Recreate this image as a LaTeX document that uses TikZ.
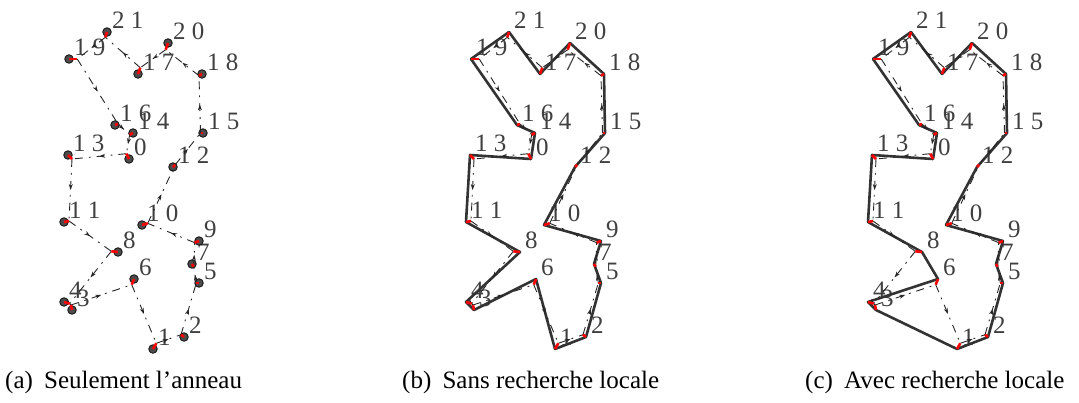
\documentclass[tikz,border=0pt]{standalone}
\usepackage{fontspec}
\setmainfont{LiberationSerif}[Extension=.ttf, UprightFont=*-Regular, BoldFont=*-Bold]
\usetikzlibrary{arrows.meta,decorations.markings}

% city: name/x/y/red dx/red dy/label (pixels, y down)
\def\cities{0/129/159/-2.7/-5.3/0, 1/153/349/3.3/-5.7/1, 2/184/337/-3/-2.3/2,
  3/72/310/-1/-5/3, 4/64/302/5.7/1.7/4, 5/199/283/-2.7/0/5, 6/134/279/-2.3/5.7/6,
  7/192/264/1.7/2.7/7, 8/118/252/-6.7/-0.7/8, 9/199/241/-4.3/1.7/9,
  10/142/225/5.7/-1.7/{1 0}, 11/64/222/5/-1/{1 1}, 12/173/167/2.3/-2.3/{1 2},
  13/68/155/4/4/{1 3}, 14/133/133/-3.3/1.7/{1 4}, 15/203/133/-2.5/0/{1 5},
  16/115/125/3/-1/{1 6}, 17/138/74/2.3/-6.3/{1 7}, 18/202/74/-3/1.7/{1 8},
  19/69/59/8.3/0/{1 9}, 20/168/43/-2.3/6.7/{2 0}, 21/107/32/-1.7/5.3/{2 1}}

\begin{document}
\begin{tikzpicture}[x=1pt, y=-1pt,
    city/.style={circle, fill=black!70, draw=black!90, line width=0.9pt, inner sep=0pt, minimum size=8.5pt},
    site/.style={coordinate},
    lbl/.style={anchor=west, inner sep=0pt, text=black!75, font=\rmfamily\fontsize{25}{28}\selectfont},
    ring/.style={black!85, line width=0.9pt, dash pattern=on 8pt off 6pt on 1.8pt off 6pt,
        postaction={decorate},
        decoration={markings, mark=at position 0.5 with {\arrow{Stealth[length=6pt,width=4pt]}}}},
    tour/.style={black!80, line width=2.6pt, line join=round},
    neur/.style={red, line width=2.6pt},
    subcap/.style={anchor=base west, inner sep=0pt, font=\rmfamily\fontsize{25}{29}\selectfont}]
    \useasboundingbox (0,0) rectangle (1079,402);

    % cities, neurons and labels of the three panels
    \foreach \p/\s/\cs in {A/0/city, B/402/site, C/804/site}{
        \foreach \n/\x/\y/\u/\v/\t in \cities{
            \node[\cs] (\p\n) at (\x+\s,\y) {};
            \coordinate (n\p\n) at ([shift={(\u,\v)}]\p\n.center);
            \node[lbl] (l\p\n) at (\x+\s+5,\y-12) {\t};
        }
    }

    % tours
    \draw[tour] (B0) -- (B13) -- (B11) -- (B8) -- (B4) -- (B3) -- (B6) -- (B1) -- (B2) -- (B5)
        -- (B7) -- (B9) -- (B10) -- (B12) -- (B15) -- (B18) -- (B20) -- (B17) -- (B21)
        -- (B19) -- (B16) -- (B14) -- cycle;
    \draw[tour] (C0) -- (C13) -- (C11) -- (C8) -- (C6) -- (C4) -- (C3) -- (C1) -- (C2) -- (C5)
        -- (C7) -- (C9) -- (C10) -- (C12) -- (C15) -- (C18) -- (C20) -- (C17) -- (C21)
        -- (C19) -- (C16) -- (C14) -- cycle;

    % ring of neurons
    \foreach \p in {A, B, C}{
        \foreach \a/\b in {0/13, 13/11, 11/8, 8/4, 4/3, 3/6, 6/1, 1/2, 2/5, 5/7, 7/9, 9/10,
                10/12, 12/15, 15/18, 18/20, 20/17, 17/21, 21/19, 19/16, 16/14, 14/0}{
            \draw[ring] (n\p\a) -- (n\p\b);
        }
        \foreach \n in {0,...,21}{
            \draw[neur] (\p\n.center) -- (n\p\n);
        }
    }

    % captions
    \node[subcap] (capA) at (5,388) {(a)\hspace{0.45em}Seulement l’anneau};
    \node[subcap] (capB) at (402,388) {(b)\hspace{0.45em}Sans recherche locale};
    \node[subcap] (capC) at (805,388) {(c)\hspace{0.45em}Avec recherche locale};
\end{tikzpicture}
\end{document}
